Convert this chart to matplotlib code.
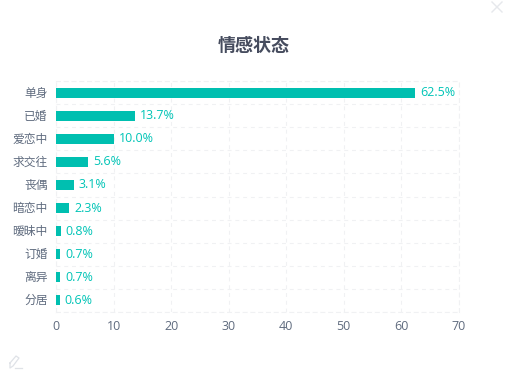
import matplotlib
matplotlib.use("Agg")
import matplotlib.pyplot as plt
from matplotlib.transforms import ScaledTranslation
import numpy as np

plt.rcParams['font.family'] = ['Noto Sans CJK SC', 'DejaVu Sans']

# data
categories = ["单身", "已婚", "爱恋中", "求交往", "丧偶", "暗恋中", "暧昧中", "订婚", "离异", "分居"]
values = [62.5, 13.7, 10.0, 5.6, 3.1, 2.3, 0.8, 0.7, 0.7, 0.6]
xticks = [0, 10, 20, 30, 40, 50, 60, 70]
title = "情感状态"

W, H = 509, 381
fig = plt.figure(figsize=(W/100, H/100), dpi=100)
# axes box in pixels
left, right, top, bottom = 56.2, 458.5, 81.3, 311.7
ax = fig.add_axes([left/W, 1-bottom/H, (right-left)/W, (bottom-top)/H])

teal = "#00bfb0"
grid = "#f0f1f3"
dash = (0, (3.5, 3.5))
pos = np.arange(len(categories))
ax.barh(pos, values, height=0.41, color=teal, zorder=3)
for p, v in zip(pos, values):
    ax.text(v+0.85, p, "%.1f%%" % v, color="#00c4b6", fontsize=9, va="center", ha="left",
            family="Open Sans", zorder=4)

ax.set_xlim(0, 70)
ax.set_ylim(len(categories)-0.5, -0.5)
ax.set_xticks(xticks)
ax.set_yticks(pos)
ax.set_yticklabels(categories)
ax.set_yticks(np.arange(len(categories)+1)-0.5, minor=True)
ax.tick_params(axis="both", which="both", length=0)
ax.tick_params(axis="x", labelsize=9, labelcolor="#5f6b7e", pad=6)
ax.tick_params(axis="y", labelsize=8.5, labelcolor="#5f6b7e", pad=6)
for lab in ax.get_xticklabels():
    lab.set_family("Open Sans")
# category labels sit a pixel higher
up = ScaledTranslation(0, 1/100, fig.dpi_scale_trans)
for lab in ax.get_yticklabels():
    lab.set_transform(lab.get_transform() + up)
ax.grid(True, axis="x", color=grid, linestyle=dash, linewidth=0.8, zorder=0)
ax.grid(True, axis="y", which="minor", color=grid, linestyle=dash, linewidth=0.8, zorder=0)
ax.grid(False, axis="y", which="major")
for s in ["top", "right", "bottom", "left"]:
    ax.spines[s].set_color(grid)
    ax.spines[s].set_linestyle(dash)
    ax.spines[s].set_linewidth(0.8)

fig.text(254/W, 1-45/H, title, fontsize=13, fontweight="bold", color="#464c5e", ha="center", va="center")

# close cross and pencil icons
def px_line(xs, ys, color, lw):
    fig.add_artist(plt.Line2D([x/W for x in xs], [1-y/H for y in ys], color=color, linewidth=lw))

px_line([492, 502], [2, 12], "#e6e8ec", 1.0)
px_line([502, 492], [2, 12], "#e6e8ec", 1.0)
px_line([10, 16, 19, 13, 10, 10], [363, 356, 358, 366, 368, 363], "#dfe2e7", 0.9)
px_line([15, 22], [368, 368], "#dfe2e7", 0.9)

fig.savefig("out.png", dpi=100)
